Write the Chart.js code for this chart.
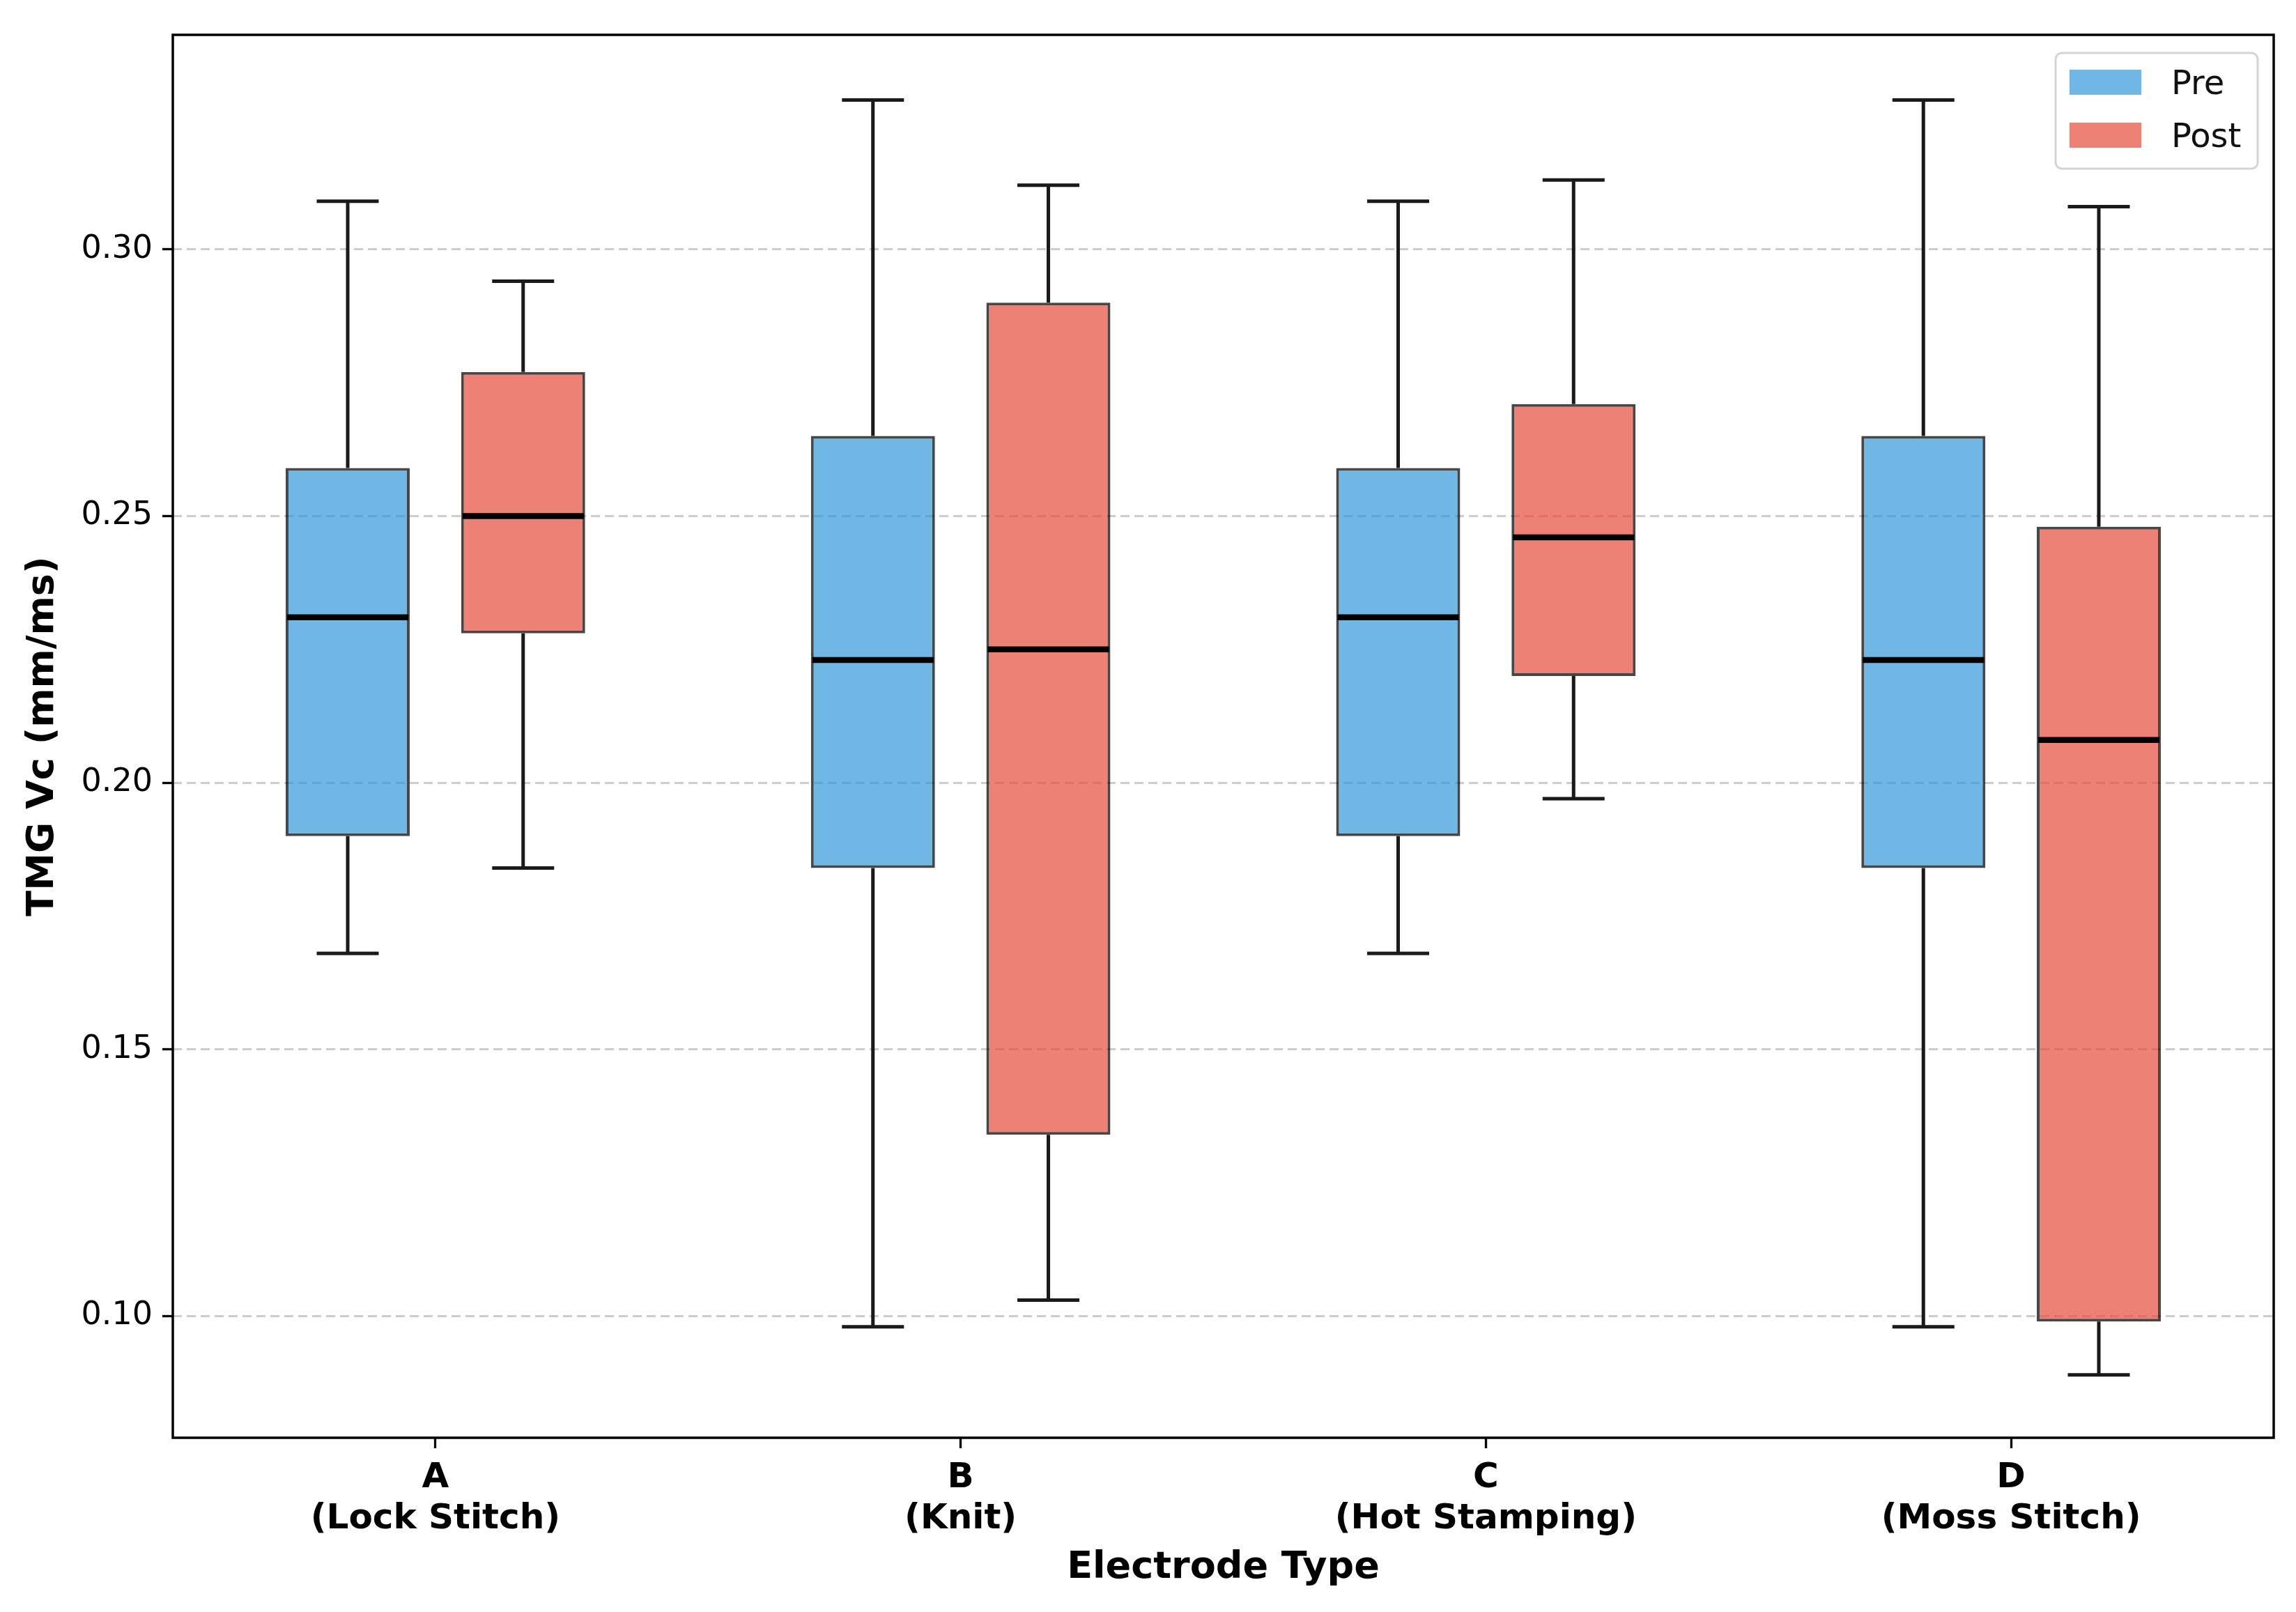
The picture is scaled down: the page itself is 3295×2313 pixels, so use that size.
<!DOCTYPE html>
<html>
<head>
<meta charset="utf-8">
<script src="https://cdn.jsdelivr.net/npm/chart.js@4.4.1/dist/chart.umd.min.js"></script>
<style>
  body { margin: 0; background: #fff; }
  canvas { display: block; }
</style>
</head>
<body>
<canvas id="boxChart" width="3295" height="2313"></canvas>
<script>
// electrode types, two lines per tick label
const categories = [['A', '(Lock Stitch)'], ['B', '(Knit)'], ['C', '(Hot Stamping)'], ['D', '(Moss Stitch)']];
const yTicks = [0.10, 0.15, 0.20, 0.25, 0.30];

// Pre
const preMin = [0.168, 0.098, 0.168, 0.098];
const preQ1 = [0.190, 0.184, 0.190, 0.184];
const preMedian = [0.231, 0.223, 0.231, 0.223];
const preQ3 = [0.259, 0.265, 0.259, 0.265];
const preMax = [0.309, 0.328, 0.309, 0.328];

// Post
const postMin = [0.184, 0.103, 0.197, 0.089];
const postQ1 = [0.228, 0.134, 0.220, 0.099];
const postMedian = [0.250, 0.225, 0.246, 0.208];
const postQ3 = [0.277, 0.290, 0.271, 0.248];
const postMax = [0.294, 0.312, 0.313, 0.308];

const stats = [
  { min: preMin, med: preMedian, max: preMax },
  { min: postMin, med: postMedian, max: postMax }
];

const FONT = "'DejaVu Sans', sans-serif";
const preColor = 'rgba(52, 152, 219, 0.7)';
const postColor = 'rgba(231, 76, 60, 0.7)';

// whiskers + caps under the boxes, medians on top, frame and legend
const boxPlugin = {
  id: 'boxParts',
  beforeDatasetsDraw(chart) {
    const ctx = chart.ctx;
    const y = chart.scales.y;
    ctx.save();
    ctx.strokeStyle = '#1a1a1a';
    ctx.lineWidth = 5;
    chart.data.datasets.forEach((ds, i) => {
      chart.getDatasetMeta(i).data.forEach((bar, j) => {
        const x = bar.x;
        const half = bar.width / 4;
        const yMin = y.getPixelForValue(stats[i].min[j]);
        const yMax = y.getPixelForValue(stats[i].max[j]);
        const yQ1 = y.getPixelForValue(ds.data[j][0]);
        const yQ3 = y.getPixelForValue(ds.data[j][1]);
        ctx.beginPath();
        ctx.moveTo(x, yQ1); ctx.lineTo(x, yMin);
        ctx.moveTo(x, yQ3); ctx.lineTo(x, yMax);
        ctx.moveTo(x - half, yMin); ctx.lineTo(x + half, yMin);
        ctx.moveTo(x - half, yMax); ctx.lineTo(x + half, yMax);
        ctx.stroke();
      });
    });
    ctx.restore();
  },
  afterDatasetsDraw(chart) {
    const ctx = chart.ctx;
    const y = chart.scales.y;
    const area = chart.chartArea;
    ctx.save();
    ctx.strokeStyle = '#000';
    ctx.lineWidth = 8.5;
    chart.data.datasets.forEach((ds, i) => {
      chart.getDatasetMeta(i).data.forEach((bar, j) => {
        const ym = y.getPixelForValue(stats[i].med[j]);
        ctx.beginPath();
        ctx.moveTo(bar.x - bar.width / 2 + 2, ym);
        ctx.lineTo(bar.x + bar.width / 2 - 2, ym);
        ctx.stroke();
      });
    });

    // axes frame
    ctx.strokeStyle = '#000';
    ctx.lineWidth = 3.5;
    ctx.strokeRect(area.left, area.top, area.right - area.left, area.bottom - area.top);

    // legend box, upper right
    const lx = area.right - 313, ly = area.top + 26;
    ctx.fillStyle = 'rgba(255,255,255,0.9)';
    ctx.strokeStyle = '#d4d4d4';
    ctx.lineWidth = 3;
    ctx.beginPath();
    ctx.roundRect(lx, ly, 290, 166, 9);
    ctx.fill();
    ctx.stroke();
    ctx.font = '48px ' + FONT;
    ctx.textBaseline = 'middle';
    ctx.textAlign = 'left';
    chart.data.datasets.forEach((ds, i) => {
      const rowY = ly + 42 + i * 76;
      ctx.fillStyle = ds.backgroundColor;
      ctx.fillRect(lx + 20, rowY - 18, 103, 36);
      ctx.fillStyle = '#111';
      ctx.fillText(ds.label, lx + 166, rowY + 5);
    });
    ctx.restore();
  }
};

new Chart(document.getElementById('boxChart'), {
  type: 'bar',
  data: {
    labels: categories,
    datasets: [
      {
        label: 'Pre',
        data: preQ1.map((q, i) => [q, preQ3[i]]),
        backgroundColor: preColor,
        borderColor: 'rgba(0,0,0,0.72)',
        borderWidth: 4,
        borderSkipped: false
      },
      {
        label: 'Post',
        data: postQ1.map((q, i) => [q, postQ3[i]]),
        backgroundColor: postColor,
        borderColor: 'rgba(0,0,0,0.72)',
        borderWidth: 4,
        borderSkipped: false
      }
    ]
  },
  options: {
    responsive: false,
    devicePixelRatio: 1,
    animation: false,
    categoryPercentage: 0.668,
    barPercentage: 0.707,
    layout: { padding: { top: 50, right: 32, left: 0, bottom: 0 } },
    plugins: {
      legend: { display: false },
      tooltip: { enabled: false }
    },
    scales: {
      x: {
        offset: true,
        grid: {
          offset: false,
          drawOnChartArea: false,
          drawTicks: true,
          tickLength: 15,
          tickColor: '#000',
          tickWidth: 3.3,
          tickBorderDash: []
        },
        border: { display: false },
        ticks: {
          color: '#000',
          padding: 14,
          maxRotation: 0,
          font: { family: FONT, size: 50, weight: 'bold', lineHeight: 1.18 }
        },
        title: {
          display: true,
          text: 'Electrode Type',
          color: '#000',
          font: { family: FONT, size: 54, weight: 'bold' },
          padding: { top: 0, bottom: 31 }
        },
        afterFit(scale) { scale.height = 250; }
      },
      y: {
        min: 0.0772,
        max: 0.3402,
        afterBuildTicks(scale) { scale.ticks = yTicks.map(v => ({ value: v })); },
        grid: {
          color: 'rgba(170,170,170,0.6)',
          lineWidth: 3,
          tickLength: 15,
          tickColor: '#000',
          tickWidth: 3.3,
          tickBorderDash: []
        },
        border: { display: false, dash: [13, 7] },
        ticks: {
          color: '#000',
          padding: 14,
          font: { family: FONT, size: 46 },
          callback: v => v.toFixed(2)
        },
        title: {
          display: true,
          text: 'TMG Vc (mm/ms)',
          color: '#000',
          font: { family: FONT, size: 54, weight: 'bold' },
          padding: { top: 30, bottom: 0 }
        },
        afterFit(scale) { scale.width = 248; }
      }
    }
  },
  plugins: [boxPlugin]
});
</script>
</body>
</html>
